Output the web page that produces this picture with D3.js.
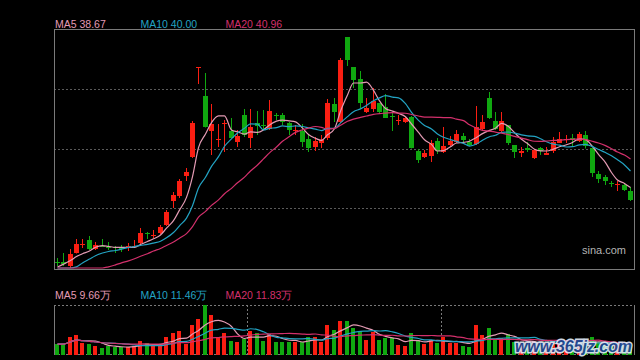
<!DOCTYPE html>
<html>
<head>
<meta charset="utf-8">
<script src="https://cdn.jsdelivr.net/npm/d3@7/dist/d3.min.js"></script>
<style>
  html, body { margin: 0; padding: 0; background: #000; }
  svg { display: block; }
  text { font-family: "Liberation Sans", Arial, sans-serif; }
</style>
</head>
<body>
<svg id="chart" width="640" height="360"></svg>
<script>
// ---------- data ----------
const openP = [
32.72,32.72,32.40,33.44,34.12,34.48,33.76,34.04,33.88,33.88,
33.92,33.84,33.92,34.24,35.08,34.76,35.04,35.68,37.60,38.00,
39.60,41.12,48.32,46.00,43.20,42.52,43.76,43.20,42.32,44.48,
42.64,43.84,43.72,43.36,44.48,44.48,43.84,43.16,43.20,42.56,
41.92,42.24,42.64,45.36,43.92,50.72,48.32,47.36,44.72,44.96,
45.44,45.12,44.44,44.04,43.92,44.32,41.60,41.12,41.20,42.40,
41.52,42.08,42.32,42.80,42.32,42.16,43.36,45.84,44.00,43.20,
43.68,42.08,41.40,41.84,41.04,41.84,41.32,41.60,42.32,42.44,
42.64,42.40,42.88,41.84,39.76,39.52,39.08,38.92,38.88,38.40];
const highP = [
33.04,33.44,33.76,34.56,34.56,34.80,34.32,34.56,34.32,34.00,
34.08,34.24,34.48,35.44,35.12,35.28,35.68,36.88,38.32,39.36,
40.24,44.00,48.32,47.84,45.36,43.76,44.08,44.24,43.28,44.96,
44.96,44.80,44.88,45.68,44.64,44.64,43.92,43.68,43.76,42.88,
42.72,42.88,45.76,45.84,49.04,50.72,48.32,48.00,45.84,46.64,
45.44,46.16,44.64,44.48,44.32,44.40,41.76,41.68,42.48,42.64,
43.52,42.80,43.28,43.04,42.56,45.20,44.48,46.32,44.72,44.72,
43.68,42.08,41.92,42.32,41.76,41.92,41.92,42.72,43.12,42.88,
42.96,43.12,43.20,41.84,40.00,39.68,39.20,39.20,39.04,38.72];
const lowP = [
32.40,32.40,32.24,33.40,33.84,33.68,33.68,33.92,33.68,33.44,
33.52,33.60,33.88,34.16,34.56,34.64,34.96,35.60,37.04,37.84,
39.20,41.04,46.96,43.48,41.28,41.92,41.52,42.60,41.92,42.72,
41.84,42.88,43.28,43.28,44.08,43.68,42.88,42.88,41.92,41.52,
41.60,41.84,42.48,43.92,43.84,48.40,46.64,45.04,44.64,44.72,
44.64,44.24,43.20,43.68,43.84,41.80,40.64,41.04,40.72,41.36,
41.44,42.00,42.24,42.32,42.00,42.08,43.20,44.16,43.28,43.12,
42.08,41.04,41.12,41.52,40.96,41.28,41.28,41.44,42.24,42.24,
41.92,42.32,41.80,39.52,39.04,38.88,38.72,38.40,38.40,37.60];
const closeP = [
32.68,32.56,33.36,34.16,34.16,33.76,34.08,34.00,33.84,33.80,
33.76,34.00,34.00,35.04,35.00,34.84,35.52,36.72,38.08,39.20,
39.92,43.84,48.32,43.52,43.76,42.60,43.84,42.64,42.80,42.88,
43.52,43.60,43.64,44.80,44.40,43.92,43.28,43.24,42.32,41.84,
42.40,42.48,45.44,44.72,48.88,48.88,47.28,45.44,45.04,45.60,
44.72,44.24,44.36,44.12,44.24,41.84,40.88,41.44,42.24,41.60,
42.00,42.40,42.96,42.48,42.08,43.52,43.92,44.24,43.36,44.00,
42.24,41.52,41.56,41.68,41.68,41.60,41.48,42.32,42.60,42.52,
42.48,42.96,42.00,39.84,39.36,39.20,39.00,39.00,38.48,37.68];
// volume in 万
const volume = [
10.8,10.8,18.6,20.8,11.8,10.8,8.9,6.5,8.9,7.8,
7.8,7.2,8.9,14.3,11.8,8.9,8.9,18.6,22.6,25.8,
10.8,31.5,38.7,53.8,42.3,18.0,22.6,14.3,13.2,16.9,
25.8,22.6,14.3,21.5,13.2,13.2,13.2,13.2,13.2,18.6,
18.6,13.2,31.5,26.9,36.6,36.6,28.0,25.8,15.1,23.7,
15.1,17.2,17.2,9.7,8.6,22.6,15.1,10.8,15.1,11.8,
18.3,11.8,11.8,8.6,7.5,32.3,20.4,29.0,16.1,17.2,
21.5,12.9,10.8,9.7,12.9,9.7,10.8,14.0,10.8,8.6,
10.8,11.8,12.9,18.3,12.9,9.7,8.6,10.8,9.6,9.5];
// closes before the first visible day (feed the moving averages)
const priorClose = [29.6,29.8,29.9,30.0,30.2,30.1,30.3,30.4,30.5,30.6,
                    30.8,30.7,30.9,31.0,30.6,31.4,31.9,32.6,33.0];
const maPeriods = [5, 10, 20];
const maColors = ["#e49bb4", "#23a3c3", "#d3306c"];
const priceDomain = [32.24, 51.36];
const dividerIdx = [30, 60];
const priceLabels = ["MA5 38.67", "MA10 40.00", "MA20 40.96"];
const volLabels = ["MA5 9.66万", "MA10 11.46万", "MA20 11.83万"];

// ---------- layout ----------
const svg = d3.select("#chart");
const N = closeP.length;
const L = 54, R = 634, T = 29, B = 268;
const VT = 305, VB = 354;
const UP = "#fa1e12", DOWN = "#10a810";

svg.append("rect").attr("width", 640).attr("height", 360).attr("fill", "#000");

const x = d3.scaleBand().domain(d3.range(N)).range([L, R])
  .paddingInner(0.25).paddingOuter(0.125);
const cx = i => Math.floor(x(i) + x.bandwidth() / 2) + 0.5;
const y = d3.scaleLinear().domain(priceDomain).range([B, T]).clamp(true);
const yv = d3.scaleLinear().domain([0, d3.max(volume)]).range([VB, VT]);

// grid lines in main panel
const gridVals = [0.25, 0.5, 0.75].map(k => priceDomain[0] + k * (priceDomain[1] - priceDomain[0]));
svg.append("g").selectAll("line").data(gridVals).join("line")
  .attr("x1", L).attr("x2", R)
  .attr("y1", d => Math.round(y(d)) + 0.5).attr("y2", d => Math.round(y(d)) + 0.5)
  .attr("stroke", "#5a5a5a").attr("stroke-dasharray", "2,2");

// main frame
svg.append("rect").attr("x", L + 0.5).attr("y", T + 0.5)
  .attr("width", R - L).attr("height", B - T + 1)
  .attr("fill", "none").attr("stroke", "#7a7a7a");

// volume frame
const vf = svg.append("g");
vf.append("line").attr("x1", L).attr("x2", R + 1).attr("y1", VT + 0.5).attr("y2", VT + 0.5)
  .attr("stroke", "#7a7a7a").attr("stroke-dasharray", "2,2");
vf.append("line").attr("x1", L).attr("x2", R + 1).attr("y1", VB + 0.5).attr("y2", VB + 0.5)
  .attr("stroke", "#7a7a7a").attr("stroke-dasharray", "2,2");
vf.append("line").attr("x1", L + 0.5).attr("x2", L + 0.5).attr("y1", VT).attr("y2", VB + 1)
  .attr("stroke", "#7a7a7a");
vf.append("line").attr("x1", R + 0.5).attr("x2", R + 0.5).attr("y1", VT).attr("y2", VB + 1)
  .attr("stroke", "#7a7a7a");
vf.selectAll(".div").data(dividerIdx).join("line")
  .attr("x1", d => Math.round(x(d) - x.step() * x.paddingInner() / 2) + 0.5)
  .attr("x2", d => Math.round(x(d) - x.step() * x.paddingInner() / 2) + 0.5)
  .attr("y1", VT).attr("y2", VB)
  .attr("stroke", "#7a7a7a").attr("stroke-dasharray", "2,2");

// moving averages
function movingAvg(arr, n, prior) {
  const full = prior.concat(arr);
  return arr.map((_, i) => {
    const end = prior.length + i + 1;
    return d3.mean(full.slice(Math.max(0, end - n), end));
  });
}

// candles
const idx = d3.range(N);
const isUp = i => closeP[i] >= openP[i];
const cg = svg.append("g");
cg.selectAll("line").data(idx).join("line")
  .attr("x1", cx).attr("x2", cx)
  .attr("y1", i => y(highP[i])).attr("y2", i => y(lowP[i]))
  .attr("stroke", i => isUp(i) ? UP : DOWN).attr("stroke-width", 1);
cg.selectAll("rect").data(idx).join("rect")
  .attr("x", i => cx(i) - 2.5).attr("width", 5)
  .attr("y", i => Math.round(y(Math.max(openP[i], closeP[i]))))
  .attr("height", i => Math.max(1, Math.round(Math.abs(y(openP[i]) - y(closeP[i])))))
  .attr("fill", i => isUp(i) ? UP : DOWN);

// price MA lines
const priceLine = d3.line().x((d, i) => cx(i)).y(d => y(d)).curve(d3.curveMonotoneX);
maPeriods.forEach((p, k) => {
  svg.append("path").datum(movingAvg(closeP, p, priorClose))
    .attr("d", priceLine).attr("fill", "none")
    .attr("stroke", maColors[k]).attr("stroke-width", 1.2);
});

// volume bars
svg.append("g").selectAll("rect").data(idx).join("rect")
  .attr("x", i => cx(i) - 2.5).attr("width", 4)
  .attr("y", i => Math.round(yv(volume[i])))
  .attr("height", i => VB + 1 - Math.round(yv(volume[i])))
  .attr("fill", i => isUp(i) ? UP : DOWN);

const volLine = d3.line().x((d, i) => cx(i)).y(d => yv(d)).curve(d3.curveMonotoneX);
maPeriods.forEach((p, k) => {
  svg.append("path").datum(movingAvg(volume, p, []))
    .attr("d", volLine).attr("fill", "none")
    .attr("stroke", maColors[k]).attr("stroke-width", 1.2);
});

// labels
const labelX = [55, 140.5, 225.5];
svg.append("g").selectAll("text").data(priceLabels).join("text")
  .attr("x", (d, i) => labelX[i]).attr("y", 28)
  .attr("font-size", "10.5px").attr("fill", (d, i) => maColors[i]).text(d => d);
svg.append("g").selectAll("text").data(volLabels).join("text")
  .attr("x", (d, i) => labelX[i]).attr("y", 299)
  .attr("font-size", "10.5px").attr("fill", (d, i) => maColors[i]).text(d => d);

svg.append("text").attr("x", 582).attr("y", 254).attr("font-size", "11px")
  .attr("fill", "#b4b4b4").text("sina.com");

// watermark
svg.append("text").attr("x", 515).attr("y", 352)
  .attr("font-size", "17px").attr("font-weight", "bold").attr("font-style", "italic")
  .attr("textLength", 117).attr("lengthAdjust", "spacingAndGlyphs")
  .attr("fill", "#1f4a95").attr("stroke", "#dfe9f6").attr("stroke-width", 3)
  .attr("paint-order", "stroke").attr("opacity", 0.92)
  .text("www.365jz.com");
</script>
</body>
</html>
